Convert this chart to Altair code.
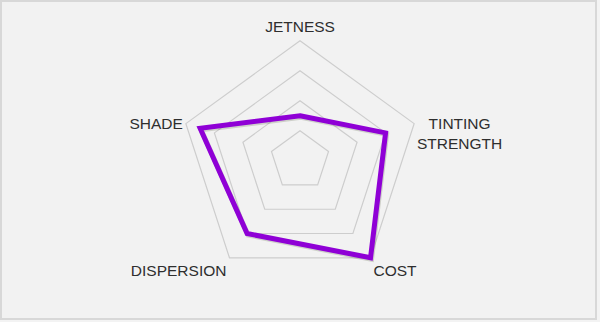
import altair as alt
import pandas as pd

# Radar chart: five pigment properties scored on a 0-4 scale
AXES = ["JETNESS", "TINTING\nSTRENGTH", "COST", "DISPERSION", "SHADE"]
VALUES = [1.5, 3.0, 4.0, 3.0, 3.5]
LEVELS = [1, 2, 3, 4]
MAX_LEVEL = 4

N = len(AXES)
FONT_SIZE = 15.5

poly_df = pd.DataFrame({"idx": list(range(N)), "value": VALUES})
grid_df = pd.DataFrame(
    [{"level": lv, "idx": i, "value": lv} for lv in LEVELS for i in range(N)]
)
label_df = pd.DataFrame(
    {
        "idx": list(range(N)),
        "label": AXES,
        "maxlen": [max(len(s) for s in a.split("\n")) for a in AXES],
        "nlines": [len(a.split("\n")) for a in AXES],
    }
)

angle = f"PI / 2 - datum.idx * 2 * PI / {N}"

xs = alt.Scale(domain=[-299 / 30, 296 / 30])
ys = alt.Scale(domain=[159.7 / 30 - 318 / 30, 159.7 / 30])


def polar(chart):
    return chart.transform_calculate(
        theta=angle,
    ).transform_calculate(
        px="datum.value * cos(datum.theta)",
        py="datum.value * sin(datum.theta)",
    )


grid = polar(alt.Chart(grid_df)).mark_line(
    interpolate="linear-closed", color="#cdcdcd", strokeWidth=1.2
).encode(
    x=alt.X("px:Q", scale=xs, axis=None),
    y=alt.Y("py:Q", scale=ys, axis=None),
    detail="level:N",
    order="idx:Q",
)

shadow = polar(alt.Chart(poly_df)).mark_line(
    interpolate="linear-closed", color="#2a3a10", opacity=0.18,
    strokeWidth=5, strokeJoin="miter", xOffset=1, yOffset=1.5,
).encode(
    x=alt.X("px:Q", scale=xs, axis=None),
    y=alt.Y("py:Q", scale=ys, axis=None),
    order="idx:Q",
)

series = polar(alt.Chart(poly_df)).mark_line(
    interpolate="linear-closed", color="#8f00d6",
    strokeWidth=5, strokeJoin="miter",
).encode(
    x=alt.X("px:Q", scale=xs, axis=None),
    y=alt.Y("py:Q", scale=ys, axis=None),
    order="idx:Q",
)

labels = alt.Chart(label_df).transform_calculate(
    theta=angle,
).transform_calculate(
    ux="cos(datum.theta)",
    uy="sin(datum.theta)",
).transform_calculate(
    side="datum.ux > 0.1 ? 1 : (datum.ux < -0.1 ? -1 : 0)",
).transform_calculate(
    lx=f"{MAX_LEVEL} * datum.ux + datum.side * (0.1 + (datum.nlines > 1 ? datum.maxlen * 0.177 : 0))",
    ly=f"{MAX_LEVEL} * datum.uy + (datum.uy > 0.5 ? 0.45 : (datum.uy < -0.5 ? -0.43 : 0))",
).mark_text(
    font="Liberation Sans",
    fontSize=FONT_SIZE,
    color="#2e2e2e",
    lineBreak="\n",
    lineHeight=20,
    baseline="middle",
    align=alt.ExprRef(
        expr="datum.nlines > 1 ? 'center' : (datum.side > 0 ? 'left' : (datum.side < 0 ? 'right' : 'center'))"
    ),
).encode(
    x=alt.X("lx:Q", scale=xs, axis=None),
    y=alt.Y("ly:Q", scale=ys, axis=None),
    text="label:N",
)

chart = alt.layer(grid, shadow, series, labels).properties(
    width=595,
    height=318,
    padding={"left": 1, "top": 1, "right": 4, "bottom": 3},
    autosize=alt.AutoSizeParams(type="none"),
    background="#f3f3f3",
).configure_view(
    fill="#f2f2f2", stroke="#d8d8d8", strokeWidth=2
)

chart.save("out.html", embed_options={"renderer": "svg", "actions": False})
